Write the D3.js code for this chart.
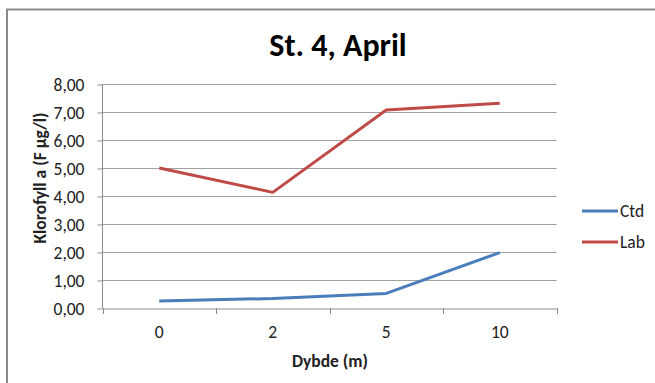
<!DOCTYPE html>
<html><head><meta charset="utf-8">
<script src="https://cdn.jsdelivr.net/npm/d3@7/dist/d3.min.js"></script>
<style>body{margin:0;background:#fff}svg{display:block}text{font-family:Carlito,Calibri,Lato,"Open Sans",sans-serif}</style>
</head><body><svg id="c" width="655" height="383"></svg>
<script>
const categories = ["0", "2", "5", "10"];
const ctd = [0.25, 0.34, 0.52, 1.98];
const lab = [5.0, 4.13, 7.07, 7.31];
const yTicks = [0, 1, 2, 3, 4, 5, 6, 7, 8];
const seriesNames = ["Ctd", "Lab"];
const colors = ["#4a7ebb", "#be4b48"];

const svg = d3.select("#c");
svg.append("rect").attr("x", 7).attr("y", 9.5).attr("width", 660).attr("height", 400)
  .attr("fill", "none").attr("stroke", "#8a8a8a").attr("stroke-width", 2);

const FS = 17.5;
const L = 102.5, R = 556.5, T = 84, B = 308;
const x = d3.scaleBand().domain(categories).range([L, R]);
const y = d3.scaleLinear().domain([0, 8]).range([B, T]);

// gridlines
svg.append("g").selectAll("line").data(yTicks.slice(1)).join("line")
  .attr("x1", L).attr("x2", R).attr("y1", d => Math.round(y(d)) + 0.5).attr("y2", d => Math.round(y(d)) + 0.5)
  .attr("stroke", "#a0a0a0").attr("stroke-width", 1);

const fmt = d => d.toFixed(2).replace(".", ",");
const yAxis = svg.append("g").attr("transform", `translate(${L},0.5)`)
  .call(d3.axisLeft(y).tickValues(yTicks).tickFormat(fmt).tickSize(5).tickPadding(13));
yAxis.select(".domain").attr("stroke", "#8a8a8a").attr("d", `M0,${T}V${B}`);
yAxis.selectAll(".tick line").attr("stroke", "#8a8a8a");
yAxis.selectAll("text").attr("font-size", FS).attr("fill", "#222");

const xAxis = svg.append("g").attr("transform", `translate(0,${B + 0.5})`)
  .call(d3.axisBottom(x).tickSize(0).tickPadding(17));
xAxis.select(".domain").attr("stroke", "#8a8a8a");
xAxis.selectAll("text").attr("font-size", FS).attr("fill", "#222");
svg.append("g").selectAll("line").data(categories.concat(["end"])).join("line")
  .attr("x1", (d, i) => Math.round(L + i * x.step()) + 0.5).attr("x2", (d, i) => Math.round(L + i * x.step()) + 0.5)
  .attr("y1", B).attr("y2", B + 6).attr("stroke", "#8a8a8a");

const line = d3.line().x((d, i) => x(categories[i]) + x.bandwidth() / 2).y(d => y(d));
[ctd, lab].forEach((s, i) => {
  svg.append("path").attr("d", line(s)).attr("fill", "none").attr("stroke", colors[i])
    .attr("stroke-width", 3).attr("stroke-linejoin", "round");
});

svg.append("text").attr("x", 338).attr("y", 56).attr("text-anchor", "middle")
  .attr("font-size", 32).attr("font-weight", "bold").attr("fill", "#000").text("St. 4, April");
svg.append("text").attr("x", 330).attr("y", 367).attr("text-anchor", "middle")
  .attr("font-size", FS).attr("font-weight", "bold").attr("fill", "#222").text("Dybde (m)");
svg.append("text").attr("transform", `translate(46,178) rotate(-90)`).attr("text-anchor", "middle")
  .attr("font-size", FS).attr("font-weight", "bold").attr("fill", "#222").text("Klorofyll a (F µg/l)");

const lg = svg.append("g");
seriesNames.forEach((n, i) => {
  const yy = 211 + i * 31;
  lg.append("line").attr("x1", 582).attr("x2", 618).attr("y1", yy).attr("y2", yy)
    .attr("stroke", colors[i]).attr("stroke-width", 3);
  lg.append("text").attr("x", 620).attr("y", yy + 5.5).attr("font-size", FS).attr("fill", "#222").text(n);
});
</script></body></html>
